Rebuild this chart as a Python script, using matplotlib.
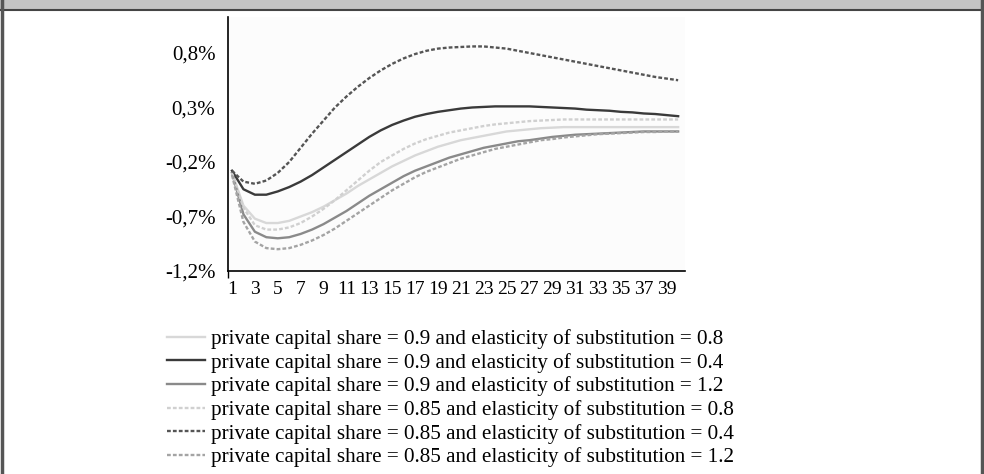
import numpy as np
import matplotlib
matplotlib.use("Agg")
import matplotlib.pyplot as plt
from matplotlib.patches import Rectangle
from matplotlib.lines import Line2D

plt.rcParams['font.family'] = ['Liberation Serif', 'DejaVu Serif']

periods = list(range(1, 41))

# share 0.9, elasticity 0.8
s09_e08 = [-0.30, -0.60, -0.72, -0.76, -0.76, -0.74, -0.70, -0.66, -0.61, -0.55,
           -0.49, -0.42, -0.36, -0.30, -0.24, -0.19, -0.14, -0.10, -0.06, -0.03,
           0.00, 0.02, 0.04, 0.06, 0.08, 0.09, 0.10, 0.11, 0.115, 0.12,
           0.12, 0.12, 0.12, 0.12, 0.12, 0.12, 0.12, 0.12, 0.12, 0.12]
# share 0.9, elasticity 0.4
s09_e04 = [-0.28, -0.45, -0.50, -0.50, -0.47, -0.43, -0.38, -0.32, -0.25, -0.18,
           -0.11, -0.04, 0.03, 0.09, 0.14, 0.18, 0.215, 0.24, 0.26, 0.275,
           0.29, 0.30, 0.305, 0.31, 0.31, 0.31, 0.31, 0.305, 0.30, 0.295,
           0.29, 0.28, 0.275, 0.27, 0.26, 0.255, 0.245, 0.24, 0.23, 0.22]
# share 0.9, elasticity 1.2
s09_e12 = [-0.30, -0.68, -0.84, -0.89, -0.90, -0.89, -0.86, -0.82, -0.77, -0.71,
           -0.65, -0.58, -0.51, -0.45, -0.39, -0.33, -0.28, -0.24, -0.20, -0.16,
           -0.13, -0.10, -0.07, -0.05, -0.03, -0.01, 0.00, 0.015, 0.03, 0.04,
           0.05, 0.055, 0.06, 0.065, 0.07, 0.075, 0.08, 0.08, 0.08, 0.08]
# share 0.85, elasticity 0.8
s085_e08 = [-0.30, -0.62, -0.78, -0.82, -0.82, -0.80, -0.76, -0.70, -0.63, -0.55,
            -0.46, -0.37, -0.28, -0.20, -0.14, -0.08, -0.03, 0.01, 0.04, 0.07,
            0.09, 0.11, 0.13, 0.145, 0.155, 0.165, 0.175, 0.18, 0.185, 0.19,
            0.19, 0.19, 0.19, 0.19, 0.19, 0.19, 0.19, 0.19, 0.19, 0.19]
# share 0.85, elasticity 0.4
s085_e04 = [-0.28, -0.38, -0.40, -0.37, -0.30, -0.20, -0.07, 0.06, 0.18, 0.30,
            0.40, 0.49, 0.57, 0.64, 0.70, 0.75, 0.79, 0.82, 0.84, 0.85,
            0.855, 0.86, 0.86, 0.85, 0.84, 0.82, 0.80, 0.78, 0.76, 0.74,
            0.72, 0.70, 0.68, 0.66, 0.64, 0.62, 0.60, 0.58, 0.565, 0.55]
# share 0.85, elasticity 1.2
s085_e12 = [-0.32, -0.75, -0.93, -0.99, -1.00, -0.99, -0.96, -0.92, -0.87, -0.81,
            -0.74, -0.67, -0.60, -0.53, -0.46, -0.40, -0.34, -0.29, -0.25, -0.21,
            -0.17, -0.14, -0.11, -0.08, -0.06, -0.04, -0.02, 0.00, 0.01, 0.025,
            0.035, 0.045, 0.055, 0.06, 0.065, 0.07, 0.075, 0.075, 0.08, 0.08]

labels = ["private capital share = 0.9 and elasticity of substitution = 0.8",
          "private capital share = 0.9 and elasticity of substitution = 0.4",
          "private capital share = 0.9 and elasticity of substitution = 1.2",
          "private capital share = 0.85 and elasticity of substitution = 0.8",
          "private capital share = 0.85 and elasticity of substitution = 0.4",
          "private capital share = 0.85 and elasticity of substitution = 1.2"]
yticks = [-1.2, -0.7, -0.2, 0.3, 0.8]
ytick_labels = ["-1,2%", "-0,7%", "-0,2%", "0,3%", "0,8%"]
xticks = list(range(1, 40, 2))

series = [s09_e08, s09_e04, s09_e12, s085_e08, s085_e04, s085_e12]
colors = ["#d8d8d8", "#3a3a3a", "#8a8a8a", "#d0d0d0", "#555555", "#a4a4a4"]
dash = (0, (1.6, 0.9))
styles = ["-", "-", "-", dash, dash, dash]

fig = plt.figure(figsize=(9.84, 4.74), dpi=100)

# frame: grey header band and dark border
fig.patches.append(Rectangle((0, 1 - 9/474), 1, 9/474, transform=fig.transFigure,
                             facecolor="#c4c4c4", edgecolor="none", zorder=0))
fig.lines.append(Line2D([0, 1], [1 - 10/474, 1 - 10/474], transform=fig.transFigure,
                        color="#444444", lw=1.5))
fig.lines.append(Line2D([2/984, 2/984], [0, 1], transform=fig.transFigure,
                        color="#555555", lw=2.5))
fig.lines.append(Line2D([982/984, 982/984], [0, 1], transform=fig.transFigure,
                        color="#555555", lw=2.5))

ax = fig.add_axes([228/984, (474-271)/474, 457/984, 254/474])
ax.set_facecolor("#fcfcfc")

for vals, c, ls, lab in zip(series, colors, styles, labels):
    ax.plot(periods, vals, color=c, linestyle=ls, linewidth=1.7, label=lab)

ax.set_xlim(0.65, 40.6)
ax.set_ylim(-1.2, 1.13)
ax.set_yticks(yticks)
ax.set_yticklabels(ytick_labels)
ax.set_xticks(xticks)
ax.set_xticklabels([str(x) for x in xticks])
ax.tick_params(axis='y', which='major', length=0, labelsize=15, pad=9)
ax.tick_params(axis='x', which='major', length=0, labelsize=14, pad=7)
ax.set_yticks([-1.2], minor=True)
ax.set_xticks([0.65], minor=True)
ax.tick_params(axis='y', which='minor', length=10, width=1)
ax.tick_params(axis='x', which='minor', length=5, width=1)

ax.spines['right'].set_color('none')
ax.spines['top'].set_color('none')
ax.spines['left'].set_linewidth(1.2)
ax.spines['bottom'].set_linewidth(1.2)

fig.legend(loc='upper left', bbox_to_anchor=(167/984, 1 - 329/474), frameon=False,
           fontsize=15.2, handlelength=1.8, handletextpad=0.3, labelspacing=0.18,
           borderaxespad=0, borderpad=0)

fig.savefig("out.png", dpi=100)
